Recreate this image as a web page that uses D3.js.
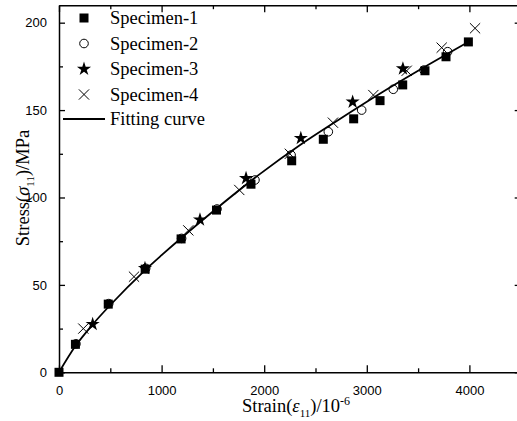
<!DOCTYPE html>
<html>
<head>
<meta charset="utf-8">
<script src="https://cdn.jsdelivr.net/npm/d3@7/dist/d3.min.js"></script>
<style>
  html, body { margin: 0; padding: 0; background: #fff; overflow: hidden; }
  svg { display: block; }
  .serif { font-family: "Liberation Serif", "Times New Roman", Times, serif; }
  .sans { font-family: "Liberation Sans", Arial, Helvetica, sans-serif; }
</style>
</head>
<body>
<svg id="chart" width="517" height="421"></svg>
<script>
// Measured strain (10^-6) and stress (MPa) for each specimen
const spec1Strain = [0, 160, 480, 840, 1190, 1535, 1871, 2268, 2576, 2872, 3129, 3350, 3567, 3772, 3990];
const spec1Stress = [0, 16, 39, 59, 76.3, 92.8, 107.6, 121, 133.3, 145, 155.4, 164.4, 172.5, 180.5, 189];

const spec2Strain = [165, 485, 845, 1195, 1540, 1910, 2262, 2625, 2950, 3258, 3557, 3788];
const spec2Stress = [16.3, 39.3, 59.5, 76.6, 93.4, 110, 124.3, 137.6, 150, 161.9, 172.9, 183.4];

const spec3Strain = [328, 838, 1374, 1823, 2357, 2862, 3352];
const spec3Stress = [27.5, 59.5, 87.3, 111, 133.9, 154.7, 173.7];

const spec4Strain = [237, 731, 1260, 1757, 2250, 2670, 3064, 3389, 3730, 4055];
const spec4Stress = [25, 54.7, 81.2, 104.3, 125, 142.8, 158.6, 172.5, 185.7, 196.8];

// Fitted stress-strain curve
const fitStrain = [0, 160, 330, 500, 840, 1000, 1500, 1960, 2350, 2700, 3130, 3500, 3990];
const fitStress = [0, 15, 27.5, 38.5, 58.5, 67, 92, 113.5, 130, 143.5, 159.5, 172.5, 189];

// Axis ticks
const xTicks = [0, 1000, 2000, 3000, 4000];
const xMinorTicks = [500, 1500, 2500, 3500, 4500];
const yTicks = [0, 50, 100, 150, 200];
const yMinorTicks = [25, 75, 125, 175];

const legendLabels = ["Specimen-1", "Specimen-2", "Specimen-3", "Specimen-4", "Fitting curve"];

const svg = d3.select("#chart");
const plotL = 59, plotR = 520.7, plotT = 5.2, plotB = 372.3;

const x = d3.scaleLinear().domain([0, 4500]).range([plotL, plotR]);
const y = d3.scaleLinear().domain([0, 210]).range([plotB, plotT]);

// Axes with inward ticks
function styleAxis(g) {
  g.attr("font-family", null).attr("font-size", null).attr("class", "sans");
  g.selectAll(".domain").attr("stroke", "#000").attr("stroke-width", 1.5);
  g.selectAll(".tick line").attr("stroke", "#000").attr("stroke-width", 1.3);
  g.selectAll("text").style("font-size", "13px").attr("fill", "#000");
}

const xAxis = svg.append("g").attr("transform", `translate(0,${plotB})`)
  .call(d3.axisBottom(x).tickValues(xTicks).tickSizeInner(-7).tickSizeOuter(0).tickPadding(13).tickFormat(d3.format("d")));
styleAxis(xAxis);
svg.append("g").attr("transform", `translate(0,${plotB})`)
  .call(d3.axisBottom(x).tickValues(xMinorTicks).tickSize(-4).tickFormat(""))
  .call(g => { g.select(".domain").remove(); styleAxis(g); });

const xTop = svg.append("g").attr("transform", `translate(0,${plotT})`)
  .call(d3.axisTop(x).tickValues(xTicks).tickSizeInner(-7).tickSizeOuter(0).tickFormat(""));
styleAxis(xTop);
svg.append("g").attr("transform", `translate(0,${plotT})`)
  .call(d3.axisTop(x).tickValues(xMinorTicks).tickSize(-4).tickFormat(""))
  .call(g => { g.select(".domain").remove(); styleAxis(g); });

const yAxis = svg.append("g").attr("transform", `translate(${plotL},0)`)
  .call(d3.axisLeft(y).tickValues(yTicks).tickSizeInner(-6).tickSizeOuter(0).tickPadding(12).tickFormat(d3.format("d")));
styleAxis(yAxis);
svg.append("g").attr("transform", `translate(${plotL},0)`)
  .call(d3.axisLeft(y).tickValues(yMinorTicks).tickSize(-4).tickFormat(""))
  .call(g => { g.select(".domain").remove(); styleAxis(g); });

const yRight = svg.append("g").attr("transform", `translate(${plotR},0)`)
  .call(d3.axisRight(y).tickValues(yTicks).tickSizeInner(-6).tickSizeOuter(0).tickFormat(""));
styleAxis(yRight);

// Markers
const pts = (xs, ys) => xs.map((v, i) => [v, ys[i]]);
const marks = svg.append("g");

marks.selectAll("rect.s1").data(pts(spec1Strain, spec1Stress)).join("rect")
  .attr("x", d => x(d[0]) - 4.5).attr("y", d => y(d[1]) - 4.5)
  .attr("width", 9).attr("height", 9).attr("fill", "#000");

marks.selectAll("circle.s2").data(pts(spec2Strain, spec2Stress)).join("circle")
  .attr("cx", d => x(d[0])).attr("cy", d => y(d[1])).attr("r", 4.3)
  .attr("fill", "none").attr("stroke", "#000").attr("stroke-width", 1);

const star = d3.symbol().type(d3.symbolStar).size(62);
marks.selectAll("path.s3").data(pts(spec3Strain, spec3Stress)).join("path")
  .attr("d", star).attr("transform", d => `translate(${x(d[0])},${y(d[1])})`).attr("fill", "#000");

const cross = d3.symbol().type(d3.symbolX).size(70);
marks.selectAll("path.s4").data(pts(spec4Strain, spec4Stress)).join("path")
  .attr("d", cross).attr("transform", d => `translate(${x(d[0])},${y(d[1])})`)
  .attr("fill", "none").attr("stroke", "#000").attr("stroke-width", 1);

// Fitting curve
const line = d3.line().x(d => x(d[0])).y(d => y(d[1])).curve(d3.curveMonotoneX);
svg.append("path").datum(pts(fitStrain, fitStress)).attr("d", line)
  .attr("fill", "none").attr("stroke", "#000").attr("stroke-width", 1.8);

// Legend
const legend = svg.append("g");
const rowY = [18, 43.5, 69, 94.5, 119];
const mx = 84, tx = 110;
legend.append("rect").attr("x", mx - 4.5).attr("y", rowY[0] - 4.5).attr("width", 9).attr("height", 9).attr("fill", "#000");
legend.append("circle").attr("cx", mx).attr("cy", rowY[1]).attr("r", 4.3).attr("fill", "none").attr("stroke", "#000");
legend.append("path").attr("d", star).attr("transform", `translate(${mx},${rowY[2]})`).attr("fill", "#000");
legend.append("path").attr("d", cross).attr("transform", `translate(${mx},${rowY[3]})`).attr("fill", "none").attr("stroke", "#000");
legend.append("line").attr("x1", 63).attr("x2", 105).attr("y1", rowY[4]).attr("y2", rowY[4])
  .attr("stroke", "#000").attr("stroke-width", 1.8);
legend.selectAll("text").data(legendLabels).join("text")
  .attr("class", "serif")
  .attr("x", tx).attr("y", (d, i) => rowY[i] + 6)
  .style("font-size", "18.5px").attr("fill", "#000")
  .text(d => d);

// Axis titles
const xt = svg.append("text").attr("class", "serif").attr("x", 296).attr("y", 412).attr("text-anchor", "middle")
  .style("font-size", "18.5px").attr("fill", "#000");
xt.append("tspan").text("Strain(");
xt.append("tspan").style("font-style", "italic").text("ε");
xt.append("tspan").style("font-size", "11px").attr("dy", 5).text("11");
xt.append("tspan").attr("dy", -5).text(")/10");
xt.append("tspan").style("font-size", "12px").attr("dy", -7).text("-6");

const yt = svg.append("text").attr("class", "serif").attr("transform", "translate(29,188) rotate(-90)").attr("text-anchor", "middle")
  .style("font-size", "18.5px").attr("fill", "#000");
yt.append("tspan").text("Stress(");
yt.append("tspan").style("font-style", "italic").text("σ");
yt.append("tspan").style("font-size", "11px").attr("dy", 5).text("11");
yt.append("tspan").attr("dy", -5).text(")/MPa");
</script>
</body>
</html>
